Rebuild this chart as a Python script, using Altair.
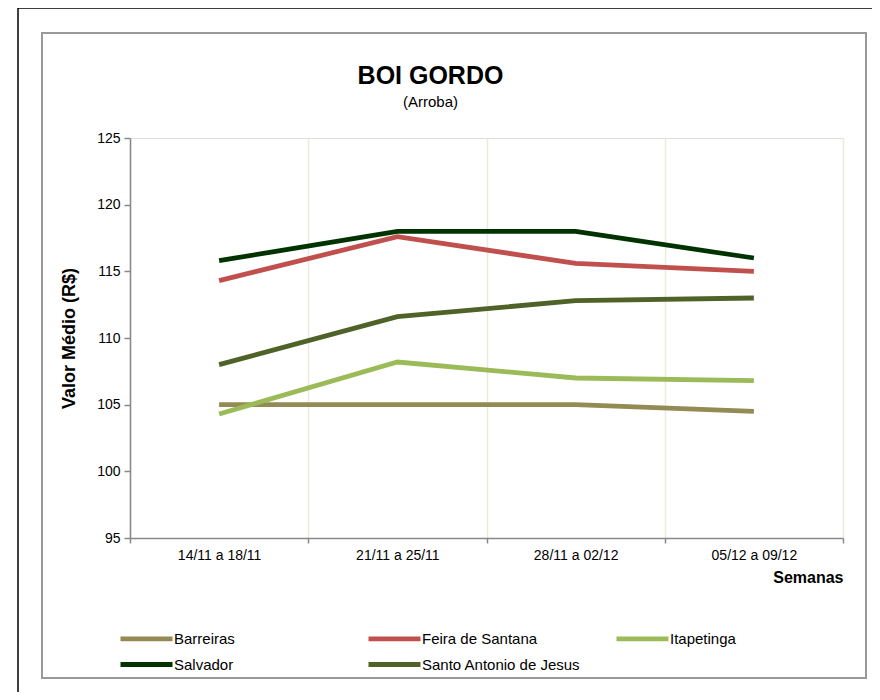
import altair as alt
import pandas as pd

weeks = ["14/11 a 18/11", "21/11 a 25/11", "28/11 a 02/12", "05/12 a 09/12"]
series_names = ["Barreiras", "Feira de Santana", "Itapetinga", "Salvador", "Santo Antonio de Jesus"]
barreiras = [105.0, 105.0, 105.0, 104.5]
feira = [114.3, 117.6, 115.6, 115.0]
itapetinga = [104.3, 108.2, 107.0, 106.8]
salvador = [115.8, 118.0, 118.0, 116.0]
santo_antonio = [108.0, 111.6, 112.8, 113.0]
colors = ["#948A54", "#C0504D", "#9BBB59", "#003300", "#4F6228"]
y_ticks = [95, 100, 105, 110, 115, 120, 125]

values = [barreiras, feira, itapetinga, salvador, santo_antonio]
rows = []
for name, vals in zip(series_names, values):
    for i, v in enumerate(vals):
        rows.append({"idx": i, "semana": weeks[i], "serie": name, "valor": v})
df = pd.DataFrame(rows)

boundaries = [i - 0.5 for i in range(len(weeks) + 1)]
label_expr = " : ".join(
    [f"datum.value == {b} ? '{w}'" for b, w in zip(boundaries, weeks)]
) + " : ''"

FONT = "Liberation Sans"
W, H = 713, 400

lines = alt.Chart(df).mark_line(strokeWidth=4.8).encode(
    x=alt.X(
        "idx:Q",
        scale=alt.Scale(domain=[-0.5, len(weeks) - 0.5], nice=False, zero=False),
        axis=alt.Axis(
            values=boundaries,
            labelExpr=label_expr,
            labelOffset=W / len(weeks) / 2,
            labelFlush=False,
            labelOverlap=False,
            grid=True,
            gridColor="#EDE9DC",
            gridWidth=1.5,
            tickColor="#888888",
            tickSize=5,
            tickWidth=1.5,
            domainColor="#888888",
            domainWidth=1.5,
            labelFont=FONT,
            labelFontSize=14,
            labelColor="#000000",
            labelPadding=5,
            title="Semanas",
            titleFont=FONT,
            titleFontSize=16,
            titleFontWeight="bold",
            titleColor="#000000",
            titleAnchor="end",
            titlePadding=7,
        ),
    ),
    y=alt.Y(
        "valor:Q",
        scale=alt.Scale(domain=[95, 125], nice=False, zero=False),
        axis=alt.Axis(
            values=y_ticks,
            grid=False,
            tickColor="#888888",
            tickSize=6,
            tickWidth=1.5,
            domainColor="#888888",
            domainWidth=1.5,
            labelFont=FONT,
            labelFontSize=14,
            labelColor="#000000",
            labelPadding=4,
            title="Valor Médio (R$)",
            titleFont=FONT,
            titleFontSize=18,
            titleFontWeight="bold",
            titleColor="#000000",
            titlePadding=18,
        ),
    ),
    color=alt.Color(
        "serie:N",
        scale=alt.Scale(domain=series_names, range=colors),
        legend=alt.Legend(
            title=None,
            orient="none",
            legendX=1,
            legendY=485,
            direction="horizontal",
            columns=3,
            gridAlign="all",
            columnPadding=25,
            rowPadding=-4,
            symbolType="M-2,0H2",
            symbolSize=676,
            symbolStrokeWidth=4.8,
            labelFont=FONT,
            labelFontSize=15,
            labelColor="#000000",
            labelOffset=12,
            labelLimit=300,
        ),
    ),
    detail="serie:N",
)

frame_data = alt.Data(values=[{"k": 1}])
inner = alt.Chart(frame_data).mark_rect(fill=None, stroke="#999999", strokeWidth=2).encode(
    x=alt.value(-88), x2=alt.value(736), y=alt.value(-105), y2=alt.value(540)
)
outer = alt.Chart(frame_data).mark_rect(fill=None, stroke="#000000", strokeWidth=1.5).encode(
    x=alt.value(-112), x2=alt.value(780), y=alt.value(-130), y2=alt.value(600)
)

chart = alt.layer(outer, inner, lines).properties(
    width=W,
    height=H,
    title=alt.TitleParams(
        text="BOI GORDO",
        subtitle="(Arroba)",
        font=FONT,
        fontSize=25,
        fontWeight="bold",
        color="#000000",
        subtitleFont=FONT,
        subtitleFontSize=15,
        subtitleColor="#000000",
        subtitlePadding=6,
        anchor="middle",
        frame="group",
        dx=-56,
        dy=131,
        offset=28,
    ),
    autosize=alt.AutoSizeParams(type="none"),
    padding={"left": 122, "top": 130, "right": 29, "bottom": 154},
).configure_view(stroke=None).configure(background="#ffffff")

chart.save("out.html", embed_options={"renderer": "svg", "actions": False})
